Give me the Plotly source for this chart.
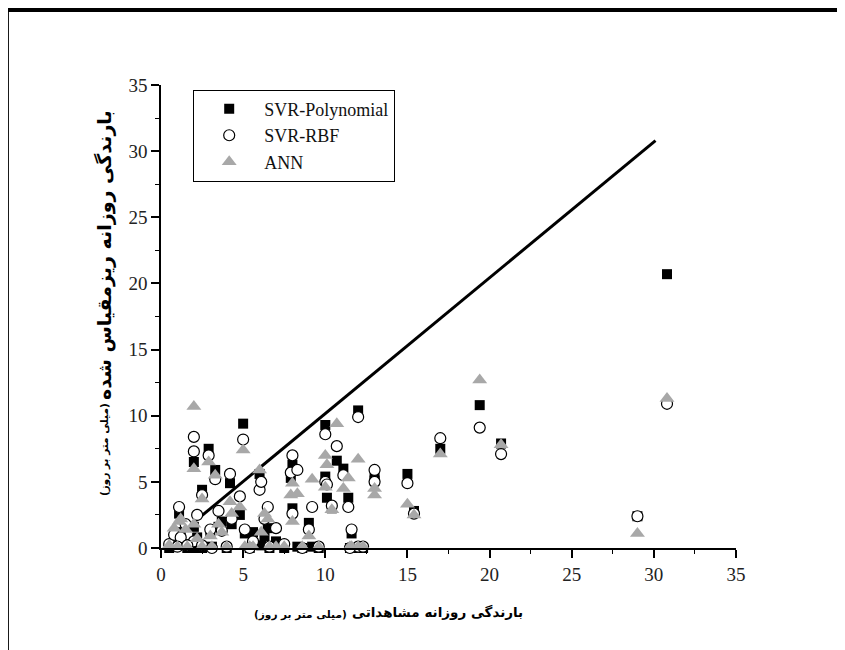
import plotly.graph_objects as go

# Observed daily rainfall (x) and downscaled estimates for each model
observed = [0.5, 0.8, 1.1, 1.2, 1.5, 2.0, 2.0, 2.0, 2.2, 2.5, 2.5, 2.9, 3.0, 3.3, 3.5, 3.7,
            4.2, 4.3, 4.8, 5.0, 5.1, 5.6, 6.0, 6.1, 6.3, 6.5, 7.0, 7.5, 8.0, 7.9, 8.3, 8.0,
            9.0, 9.2, 10.0, 10.0, 10.1, 10.4, 10.7, 11.1, 11.4, 11.6, 12.0, 12.0, 13.0, 13.0,
            15.0, 15.4, 17.0, 19.4, 20.7, 29.0, 30.8,
            1.0, 1.6, 3.1, 4.0, 5.4, 6.6, 8.6, 9.6, 11.5, 12.3]
svr_poly = [0.0, 0.5, 2.6, 1.2, 0.3, 6.5, 1.6, 0.0, 0.8, 4.4, 0.0, 7.5, 1.2, 5.9, 1.6, 2.0,
            4.9, 1.8, 2.5, 9.4, 1.1, 1.2, 5.6, 0.2, 0.9, 1.5, 0.5, 0.0, 6.3, 5.3, 0.1, 3.0,
            1.9, 0.1, 9.3, 5.4, 3.8, 3.0, 6.6, 6.0, 3.8, 1.1, 10.4, 0.0, 5.4, 5.1,
            5.6, 2.8, 7.5, 10.8, 7.9, 2.4, 20.7,
            0.2, 0.0, 0.1, 0.0, 0.0, 0.0, 0.0, 0.0, 0.0, 0.0]
svr_rbf = [0.3, 1.0, 3.1, 0.8, 1.8, 8.4, 7.3, 0.5, 2.5, 4.0, 0.2, 7.0, 1.4, 5.2, 2.8, 1.3,
           5.6, 2.2, 3.9, 8.2, 1.4, 0.5, 4.4, 5.0, 2.2, 3.1, 1.5, 0.3, 7.0, 5.7, 5.9, 2.6,
           1.4, 3.1, 8.6, 5.0, 4.8, 3.2, 7.7, 5.5, 3.1, 1.4, 9.9, 0.1, 5.9, 5.0,
           4.9, 2.6, 8.3, 9.1, 7.1, 2.4, 10.9,
           0.1, 0.2, 0.0, 0.1, 0.0, 0.1, 0.0, 0.1, 0.0, 0.1]
ann = [0.2, 1.5, 2.0, 2.2, 1.4, 10.7, 6.0, 1.8, 0.7, 3.7, 0.1, 6.5, 0.9, 5.5, 1.8, 1.2,
       3.5, 2.6, 3.1, 7.4, 0.1, 0.1, 5.9, 1.2, 2.6, 2.2, 0.1, 0.1, 4.9, 4.0, 4.1, 2.0,
       0.9, 5.2, 7.0, 4.6, 6.3, 2.9, 9.4, 4.5, 5.3, 0.1, 6.7, 0.1, 4.5, 4.0,
       3.3, 2.5, 7.1, 12.7, 7.8, 1.1, 11.3,
       0.1, 0.1, 0.1, 0.1, 0.1, 0.1, 0.1, 0.1, 0.1, 0.1]

line_x = [0.2, 30.1]
line_y = [0.1, 30.8]

x_ticks = [0, 5, 10, 15, 20, 25, 30, 35]
y_ticks = [0, 5, 10, 15, 20, 25, 30, 35]

x_title_main = "بارندگی روزانه مشاهداتی"
y_title_main = "بارندگی روزانه ریزمقیاس شده"
unit_text = "(میلی متر بر روز)"

fig = go.Figure()

fig.add_trace(go.Scatter(x=line_x, y=line_y, mode="lines",
                         line=dict(color="black", width=3), showlegend=False,
                         hoverinfo="skip"))

fig.add_trace(go.Scatter(x=observed, y=svr_poly, mode="markers", name="SVR-Polynomial",
                         marker=dict(symbol="square", size=10, color="black"),
                         cliponaxis=False))
fig.add_trace(go.Scatter(x=observed, y=svr_rbf, mode="markers", name="SVR-RBF",
                         marker=dict(symbol="circle", size=11, color="white",
                                     line=dict(color="black", width=1.2)),
                         cliponaxis=False))
fig.add_trace(go.Scatter(x=observed, y=ann, mode="markers", name="ANN",
                         marker=dict(symbol="triangle-up", size=13, color="#a8a8a8"),
                         cliponaxis=False))

axis_common = dict(
    range=[0, 35], showgrid=False, zeroline=False, showline=True,
    linecolor="black", linewidth=1.5, ticks="outside", ticklen=8, tickwidth=1.5,
    tickcolor="black", tickfont=dict(family="Liberation Serif", size=19, color="#222"),
    minor=dict(dtick=2.5, ticks="outside", ticklen=4, tickwidth=1.2, tickcolor="black"),
    fixedrange=True,
)

fig.update_xaxes(**axis_common, tickvals=x_ticks, ticktext=[str(v) for v in x_ticks])
fig.update_yaxes(**axis_common, tickvals=y_ticks, ticktext=[str(v) for v in y_ticks])

# page body adds an 8px offset; margins compensate so the plot area lands at 161..736 x 85..548
fig.update_layout(
    width=845, height=650,
    margin=dict(l=153, r=117, t=77, b=110),
    paper_bgcolor="white", plot_bgcolor="white",
    showlegend=True,
    legend=dict(x=0.056, y=0.99, xanchor="left", yanchor="top",
                bordercolor="black", borderwidth=1, bgcolor="white",
                font=dict(family="Liberation Serif", size=18, color="#111"),
                itemwidth=60, tracegroupgap=0),
    shapes=[dict(type="rect", xref="paper", yref="paper",
                 x0=-0.268, x1=1.35, y0=-0.35, y1=1.162,
                 line=dict(color="black", width=4))],
    annotations=[
        dict(text=x_title_main, xref="paper", yref="paper", x=(437 - 161) / 575,
             y=(548 - 612) / 463, showarrow=False, xanchor="center", yanchor="middle",
             font=dict(family="DejaVu Sans", size=13.5, color="black", weight="bold")),
        dict(text=unit_text, xref="paper", yref="paper", x=(300 - 161) / 575,
             y=(548 - 614) / 463, showarrow=False, xanchor="center", yanchor="middle",
             font=dict(family="DejaVu Sans", size=10.5, color="black", weight="bold")),
        dict(text=y_title_main, xref="paper", yref="paper", x=(104 - 161) / 575,
             y=(548 - 255) / 463, showarrow=False, textangle=-90,
             xanchor="center", yanchor="middle",
             font=dict(family="DejaVu Sans", size=19, color="black", weight="bold")),
        dict(text=unit_text, xref="paper", yref="paper", x=(104 - 161) / 575,
             y=(548 - 450) / 463, showarrow=False, textangle=-90,
             xanchor="center", yanchor="middle",
             font=dict(family="DejaVu Sans", size=10.5, color="black", weight="bold")),
    ],
)

fig.write_html("out.html")
